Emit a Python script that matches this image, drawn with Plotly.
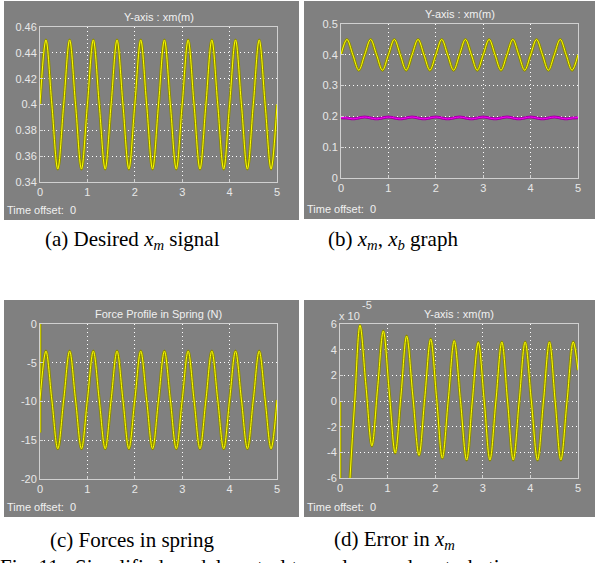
import plotly.graph_objects as go

# ---------------- data ----------------
t_q = [0.0, 0.125, 0.25, 0.375, 0.5, 0.625, 0.75, 0.875, 1.0, 1.125, 1.25, 1.375,
       1.5, 1.625, 1.75, 1.875, 2.0, 2.125, 2.25, 2.375, 2.5, 2.625, 2.75, 2.875,
       3.0, 3.125, 3.25, 3.375, 3.5, 3.625, 3.75, 3.875, 4.0, 4.125, 4.25, 4.375,
       4.5, 4.625, 4.75, 4.875, 5.0]

xm_desired = [0.40, 0.45, 0.40, 0.35, 0.40, 0.45, 0.40, 0.35, 0.40, 0.45, 0.40, 0.35,
              0.40, 0.45, 0.40, 0.35, 0.40, 0.45, 0.40, 0.35, 0.40, 0.45, 0.40, 0.35,
              0.40, 0.45, 0.40, 0.35, 0.40, 0.45, 0.40, 0.35, 0.40, 0.45, 0.40, 0.35,
              0.40, 0.45, 0.40, 0.35, 0.40]

xm_graph = [0.40, 0.45, 0.40, 0.35, 0.40, 0.45, 0.40, 0.35, 0.40, 0.45, 0.40, 0.35,
            0.40, 0.45, 0.40, 0.35, 0.40, 0.45, 0.40, 0.35, 0.40, 0.45, 0.40, 0.35,
            0.40, 0.45, 0.40, 0.35, 0.40, 0.45, 0.40, 0.35, 0.40, 0.45, 0.40, 0.35,
            0.40, 0.45, 0.40, 0.35, 0.40]

xb_graph = [0.196, 0.195, 0.192, 0.195, 0.198, 0.195, 0.192, 0.195, 0.198, 0.195, 0.192, 0.195,
            0.198, 0.195, 0.192, 0.195, 0.198, 0.195, 0.192, 0.195, 0.198, 0.195, 0.192, 0.195,
            0.198, 0.195, 0.192, 0.195, 0.198, 0.195, 0.192, 0.195, 0.198, 0.195, 0.192, 0.195,
            0.198, 0.195, 0.192, 0.195, 0.196]

force_spring = [-9.8, -3.5, -9.8, -16.1, -9.8, -3.5, -9.8, -16.1, -9.8, -3.5, -9.8, -16.1,
                -9.8, -3.5, -9.8, -16.1, -9.8, -3.5, -9.8, -16.1, -9.8, -3.5, -9.8, -16.1,
                -9.8, -3.5, -9.8, -16.1, -9.8, -3.5, -9.8, -16.1, -9.8, -3.5, -9.8, -16.1,
                -9.8, -3.5, -9.8, -16.1, -9.8]
force_start_t = [0.0, 0.0]
force_start_v = [0.0, -14.0]

err_t = [0.10, 0.21, 0.31, 0.42, 0.545, 0.67, 0.79, 0.91, 1.035, 1.16, 1.28, 1.40,
         1.53, 1.66, 1.78, 1.905, 2.03, 2.15, 2.275, 2.40, 2.53, 2.66, 2.78, 2.905,
         3.03, 3.15, 3.275, 3.40, 3.52, 3.64, 3.765, 3.89, 4.02, 4.15, 4.275, 4.40,
         4.52, 4.64, 4.77, 4.90, 5.0]
err_v = [-14.0, -6.0, 0.0, 5.9, 1.2, -3.5, 1.0, 5.45, 0.7, -4.05, 0.4, 5.06,
         0.4, -4.23, 0.2, 4.83, 0.2, -4.45, 0.1, 4.7, 0.05, -4.6, 0.0, 4.57,
         0.0, -4.6, 0.0, 4.6, 0.0, -4.6, 0.0, 4.6, 0.0, -4.6, 0.0, 4.6,
         0.0, -4.6, 0.0, 4.6, 2.4]
err_start_t = [0.0, 0.0]
err_start_v = [0.0, -7.0]

x_ticks = [0, 1, 2, 3, 4, 5]
y_ticks_a = [0.34, 0.36, 0.38, 0.40, 0.42, 0.44, 0.46]
y_text_a = ["0.34", "0.36", "0.38", "0.4", "0.42", "0.44", "0.46"]
y_ticks_b = [0, 0.1, 0.2, 0.3, 0.4, 0.5]
y_text_b = ["0", "0.1", "0.2", "0.3", "0.4", "0.5"]
y_ticks_c = [-20, -15, -10, -5, 0]
y_text_c = ["-20", "-15", "-10", "-5", "0"]
y_ticks_d = [-6, -4, -2, 0, 2, 4, 6]
y_text_d = ["-6", "-4", "-2", "0", "2", "4", "6"]

panel_titles = ["Y-axis : xm(m)", "Y-axis : xm(m)", "Force Profile in Spring (N)", "Y-axis : xm(m)"]
captions = ["(a) Desired <i>x</i><sub><i>m</i></sub> signal",
            "(b) <i>x</i><sub><i>m</i></sub>, <i>x</i><sub><i>b</i></sub> graph",
            "(c) Forces in spring",
            "(d) Error in <i>x</i><sub><i>m</i></sub>"]
fig_caption = "Fig. 11:  Simplified model control to analyze and perturbation"

# ---------------- layout helpers ----------------
W, H = 595, 563
def px(x):
    return x / W
def py(y):
    return 1 - y / H

GRAY = "#808080"
LABEL = "#e8e8e8"
FONT = "Liberation Sans, Arial, sans-serif"
SERIF = "Liberation Serif, Times New Roman, serif"
OLIVE = "#8a8a00"
YELLOW = "#ffff00"

# plot areas in pixels: (x0, x1, y0_top, y1_bottom)
areas = [(40, 277, 27, 182), (341, 578, 24, 178), (40, 277, 324, 479), (340, 578, 324, 478)]
panels = [(4, 299, 1, 220), (304, 595, 1, 219), (4, 299, 300, 517), (304, 595, 300, 517)]

fig = go.Figure()

def add_signal(t, v, axis_id, under=OLIVE, top=YELLOW, spline=True):
    xa = "x" if axis_id == 1 else f"x{axis_id}"
    ya = "y" if axis_id == 1 else f"y{axis_id}"
    shape = "spline" if spline else "linear"
    fig.add_trace(go.Scatter(x=t, y=v, xaxis=xa, yaxis=ya, mode="lines",
                             line=dict(color=under, width=3, shape=shape),
                             hoverinfo="skip", showlegend=False))
    fig.add_trace(go.Scatter(x=t, y=v, xaxis=xa, yaxis=ya, mode="lines",
                             line=dict(color=top, width=1, shape=shape),
                             showlegend=False))

add_signal(t_q, xm_desired, 1)
add_signal(t_q, xm_graph, 2)
add_signal(t_q, xb_graph, 2, under="#a000a0", top="#ff00ff")
add_signal(force_start_t, force_start_v, 3, spline=False)
add_signal(t_q, force_spring, 3)
add_signal(err_start_t, err_start_v, 4, spline=False)
add_signal(err_t, err_v, 4)

yspec = [([0.34, 0.46], y_ticks_a, y_text_a),
         ([0, 0.5], y_ticks_b, y_text_b),
         ([-20, 0], y_ticks_c, y_text_c),
         ([-6, 6], y_ticks_d, y_text_d)]

layout = dict(width=W, height=H, margin=dict(l=0, r=0, t=0, b=0, autoexpand=False),
              paper_bgcolor="white", plot_bgcolor="black", showlegend=False,
              font=dict(family=FONT, size=11, color=LABEL))

shapes = []
annotations = []
for i in range(4):
    x0, x1, y0, y1 = areas[i]
    suffix = "" if i == 0 else str(i + 1)
    rng, tv, tt = yspec[i]
    axis_common = dict(showline=True, linecolor="#d0d0d0", linewidth=1, mirror=True,
                       showgrid=True, gridcolor="#ffffff", gridwidth=1, griddash="1px,3px",
                       zeroline=False, ticks="inside", ticklen=3, tickcolor="#d0d0d0",
                       automargin=False,
                       tickfont=dict(family=FONT, size=11, color=LABEL), fixedrange=True)
    layout["xaxis" + suffix] = dict(domain=[px(x0), px(x1)], range=[0, 5], tickvals=x_ticks,
                                    anchor="y" + suffix, **axis_common)
    layout["yaxis" + suffix] = dict(domain=[py(y1), py(y0)], range=rng, tickvals=tv, ticktext=tt,
                                    anchor="x" + suffix, **axis_common)
    a0, a1, b0, b1 = panels[i]
    shapes.append(dict(type="rect", xref="paper", yref="paper", x0=px(a0), x1=px(a1),
                       y0=py(b1), y1=py(b0), fillcolor=GRAY, line=dict(width=0), layer="below"))
    annotations.append(dict(text=panel_titles[i], xref="paper", yref="paper",
                            x=px((x0 + x1) / 2), y=py(y0 - 10), showarrow=False,
                            xanchor="center", yanchor="middle",
                            font=dict(family=FONT, size=11, color="#f0f0f0")))
    annotations.append(dict(text="Time offset:  0", xref="paper", yref="paper",
                            x=px(a0 + 1), y=py(b1 - 10), showarrow=False,
                            xanchor="left", yanchor="middle",
                            font=dict(family=FONT, size=11, color="#f0f0f0")))

# exponent label of panel (d)
annotations.append(dict(text="x 10", xref="paper", yref="paper", x=px(337), y=py(316),
                        showarrow=False, xanchor="left", yanchor="middle",
                        font=dict(family=FONT, size=11, color=LABEL)))
annotations.append(dict(text="-5", xref="paper", yref="paper", x=px(360), y=py(305),
                        showarrow=False, xanchor="left", yanchor="middle",
                        font=dict(family=FONT, size=11, color=LABEL)))

cap_pos = [(132, 240), (393, 240), (132, 540), (394, 540)]
for (cx, cy), txt in zip(cap_pos, captions):
    annotations.append(dict(text=txt, xref="paper", yref="paper", x=px(cx), y=py(cy),
                            showarrow=False, xanchor="center", yanchor="middle",
                            font=dict(family=SERIF, size=21, color="black")))
annotations.append(dict(text=fig_caption, xref="paper", yref="paper", x=px(-2), y=py(567),
                        showarrow=False, xanchor="left", yanchor="middle",
                        font=dict(family=SERIF, size=21, color="black")))

layout["shapes"] = shapes
layout["annotations"] = annotations
fig.update_layout(**layout)
fig.write_html("out.html", config={"displayModeBar": False, "staticPlot": True},
               post_script="document.body.style.margin='0';document.body.style.overflow='hidden';")
